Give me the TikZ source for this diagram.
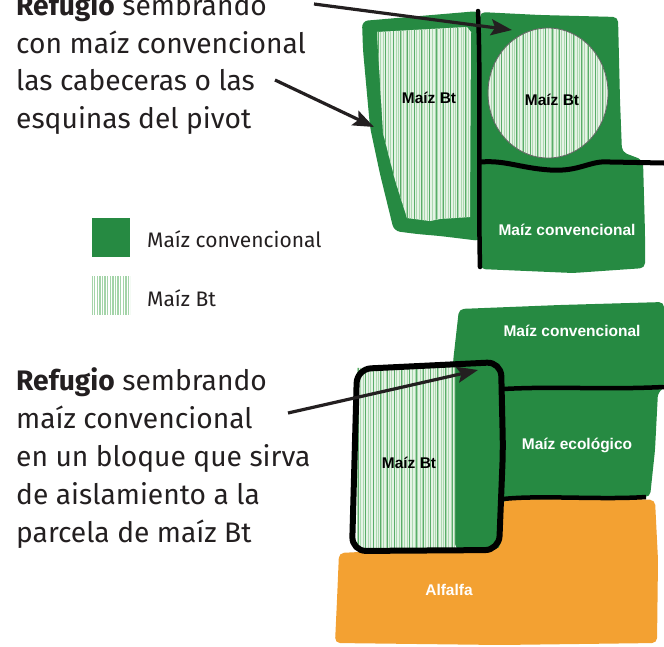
\documentclass[tikz,border=0pt]{standalone}
\usepackage{fontspec}
\setmainfont{Fira Sans}
\newfontfamily\lblfont{Liberation Sans}
\usetikzlibrary{arrows.meta}
\definecolor{fieldgreen}{RGB}{38,138,66}
\definecolor{alforange}{RGB}{243,161,50}
\definecolor{inkdark}{RGB}{35,31,32}
\definecolor{btbase}{RGB}{230,243,230}
\definecolor{btstripe}{RGB}{172,216,176}
\definecolor{btdark}{RGB}{90,172,106}
\tikzset{
  greenfield/.style={fill=fieldgreen, draw=none},
  orangefield/.style={fill=alforange, draw=none},
  border/.style={draw=black, line width=5pt, line cap=round, line join=round},
  pointer/.style={draw=inkdark, line width=3.2pt, -{Stealth[length=21pt,width=16pt,inset=4pt]}},
  darklabel/.style={font=\lblfont\bfseries\fontsize{15.5}{18}\selectfont, text=black, inner sep=0pt},
  whitelabel/.style={font=\lblfont\bfseries\fontsize{15.5}{18}\selectfont, text=white, inner sep=0pt},
  bodyline/.style={font=\fontsize{28.2}{37.5}\selectfont, text=inkdark, anchor=base west, inner sep=0pt},
  legendline/.style={font=\fontsize{21}{24}\selectfont, text=inkdark, anchor=base west, inner sep=0pt},
}
\newcommand\btstripes[4]{%
  \fill[btbase] (#1,#3) rectangle (#2,#4);
  \foreach \xx in {0,2.6,...,300} {\draw[btstripe, line width=0.9pt] ({#1+\xx},#3) -- ({#1+\xx},#4);}
  \foreach \xx in {1.3,8.5,...,300} {\draw[btdark, line width=0.6pt] ({#1+\xx},#3) -- ({#1+\xx},#4);}
}
\begin{document}
\begin{tikzpicture}[x=1pt,y=-1pt]
\useasboundingbox (0,0) rectangle (664,646);

% ---------------- top diagram ----------------
% left field (green border)
\fill[greenfield, rounded corners=6pt] (362,21) -- (420,16) -- (479,11) -- (481,241) -- (440,236) -- (417,234) -- (394,231) -- (380,174) -- (370,127) -- (363,50) -- cycle;
% left field Bt core
\begin{scope}
  \clip (377,32) -- (467,27) -- (471,32) -- (470,217) -- (440,219) -- (430,221) -- (407,218) -- (395,180) -- (383,133) -- cycle;
  \btstripes{370}{475}{25}{225}
\end{scope}
% right field
\fill[greenfield, rounded corners=5pt] (480,12) -- (540,15) -- (618,17) -- (620,100) -- (622,152) -- (643,160) -- (645,233) -- (645,268) -- (573,273) -- (480,269) -- cycle;
% pivot circle
\begin{scope}
  \clip (548,93) ellipse [x radius=60, y radius=65];
  \btstripes{486}{610}{26}{160}
\end{scope}
\draw[black!60, line width=0.8pt] (548,93) ellipse [x radius=60, y radius=65];
% boundary lines
\draw[border, line width=4.5pt] (478,11) .. controls (481,80) and (478,180) .. (480,267);
\draw[border, line width=5pt, line cap=butt] (481,162) .. controls (505,160) and (520,168) .. (550,170) .. controls (580,172) and (590,160) .. (610,162) -- (664,163);

\node[darklabel] (btleft) at (429,98) {Maíz Bt};
\node[darklabel] (btcircle) at (552,100) {Maíz Bt};
\node[whitelabel] (convtop) at (567,230) {Maíz convencional};

% top text
\node[bodyline] (t1) at (16,15.5) {\textbf{Refugio} sembrando};
\node[bodyline] (t2) at (16,53) {con maíz convencional};
\node[bodyline] (t3) at (16,90.5) {las cabeceras o las};
\node[bodyline] (t4) at (16,128) {esquinas del pivot};

\coordinate (a1s) at (314,4);
\coordinate (a1e) at (512,30);
\coordinate (a2s) at (275,80);
\coordinate (a2e) at (374,127);
\draw[pointer] (a1s) -- (a1e);
\draw[pointer] (a2s) -- (a2e);

% legend
\fill[fieldgreen] (92,218) rectangle (130,257);
\begin{scope}
  \clip (92,276) rectangle (130,315);
  \fill[white] (92,276) rectangle (130,315);
  \foreach \xx in {0,2.6,...,40} {\draw[btstripe!90!btdark, line width=1.4pt] ({92+\xx},276) -- ({92+\xx},315);}
\end{scope}
\node[legendline] (lg1) at (147,247) {Maíz convencional};
\node[legendline] (lg2) at (147,306) {Maíz Bt};

% ---------------- bottom diagram ----------------
% orange alfalfa
\fill[orangefield, rounded corners=5pt] (503,500) -- (600,497) -- (655,500) -- (658,560) -- (657,643) -- (500,645) -- (335,643) -- (337,600) -- (339,553) -- (400,550) -- (500,548) -- cycle;
% green fields
\fill[greenfield, rounded corners=5pt] (459,309) -- (560,305) -- (664,302) -- (664,388) -- (658,392) -- (655,450) -- (650,497) -- (503,500) -- (500,549) -- (455,549) -- (453,362) -- cycle;
% Bt block
\begin{scope}
  \clip (357,368) -- (455,364) -- (455,550) -- (357,550) -- cycle;
  \btstripes{350}{460}{360}{555}
\end{scope}
% boundary lines
\draw[border, line width=4.5pt, line cap=butt] (503,389) .. controls (560,386) and (600,390) .. (664,387);
\draw[border, line width=4.5pt, line cap=butt] (503,499) .. controls (540,495) and (600,500) .. (646,497);
\draw[border, line width=6pt, rounded corners=14pt] (357,369) -- (440,365) -- (501,362) -- (503,450) -- (499,550) -- (352,551) -- cycle;

\node[whitelabel] (convbot) at (572,331) {Maíz convencional};
\node[whitelabel] (eco) at (577,445) {Maíz ecológico};
\node[darklabel] (btbot) at (409,463) {Maíz Bt};
\node[whitelabel] (alf) at (449,590) {Alfalfa};

% bottom text
\node[bodyline] (b1) at (16,390) {\textbf{Refugio} sembrando};
\node[bodyline] (b2) at (16,428) {maíz convencional};
\node[bodyline] (b3) at (16,466) {en un bloque que sirva};
\node[bodyline] (b4) at (16,504) {de aislamiento a la};
\node[bodyline] (b5) at (16,542) {parcela de maíz Bt};

\coordinate (a3s) at (288,413);
\coordinate (a3e) at (478,370);
\draw[pointer] (a3s) -- (a3e);
\end{tikzpicture}
\end{document}
